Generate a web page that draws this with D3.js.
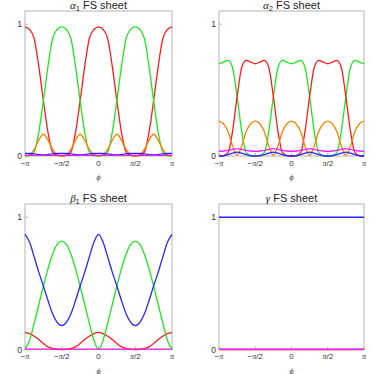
<!DOCTYPE html>
<html>
<head>
<meta charset="utf-8">
<script src="https://cdn.jsdelivr.net/npm/d3@7"></script>
<style>
body { margin: 0; background: #fff; }
text { font-family: "Liberation Sans", Arial, sans-serif; fill: #333; }
.greek { font-family: "Liberation Serif", serif; font-style: italic; }
</style>
</head>
<body>
<svg width="374" height="374"></svg>
<script>
// phi sample points, in steps of pi/16 (-pi .. pi)
const phiSteps = [-16,-15,-14,-13,-12,-11,-10,-9,-8,-7,-6,-5,-4,-3,-2,-1,0,1,2,3,4,5,6,7,8,9,10,11,12,13,14,15,16];

// alpha1 FS sheet
const alpha1Red = [0.98,0.96,0.89,0.68,0.42,0.18,0.03,0.005,0,0.005,0.03,0.18,0.42,0.68,0.89,0.96,0.98,0.96,0.89,0.68,0.42,0.18,0.03,0.005,0,0.005,0.03,0.18,0.42,0.68,0.89,0.96,0.98];
const alpha1Green = [0,0.005,0.03,0.18,0.42,0.68,0.89,0.96,0.98,0.96,0.89,0.68,0.42,0.18,0.03,0.005,0,0.005,0.03,0.18,0.42,0.68,0.89,0.96,0.98,0.96,0.89,0.68,0.42,0.18,0.03,0.005,0];
const alpha1Orange = [0,0.01,0.05,0.12,0.165,0.12,0.05,0.01,0,0.01,0.05,0.12,0.165,0.12,0.05,0.01,0,0.01,0.05,0.12,0.165,0.12,0.05,0.01,0,0.01,0.05,0.12,0.165,0.12,0.05,0.01,0];
const alpha1Blue = [0.02,0.019,0.016,0.011,0.008,0.011,0.016,0.019,0.02,0.019,0.016,0.011,0.008,0.011,0.016,0.019,0.02,0.019,0.016,0.011,0.008,0.011,0.016,0.019,0.02,0.019,0.016,0.011,0.008,0.011,0.016,0.019,0.02];
const alpha1Magenta = [0.005,0.005,0.005,0.005,0.005,0.005,0.005,0.005,0.005,0.005,0.005,0.005,0.005,0.005,0.005,0.005,0.005,0.005,0.005,0.005,0.005,0.005,0.005,0.005,0.005,0.005,0.005,0.005,0.005,0.005,0.005,0.005,0.005];

// alpha2 FS sheet
const alpha2Green = [0.70,0.712,0.725,0.67,0.45,0.19,0.025,0.003,0,0.003,0.025,0.19,0.45,0.67,0.725,0.712,0.70,0.712,0.725,0.67,0.45,0.19,0.025,0.003,0,0.003,0.025,0.19,0.45,0.67,0.725,0.712,0.70];
const alpha2Red = [0,0.003,0.025,0.19,0.45,0.67,0.725,0.712,0.70,0.712,0.725,0.67,0.45,0.19,0.025,0.003,0,0.003,0.025,0.19,0.45,0.67,0.725,0.712,0.70,0.712,0.725,0.67,0.45,0.19,0.025,0.003,0];
const alpha2Orange = [0.265,0.245,0.185,0.075,0.005,0.075,0.185,0.245,0.265,0.245,0.185,0.075,0.005,0.075,0.185,0.245,0.265,0.245,0.185,0.075,0.005,0.075,0.185,0.245,0.265,0.245,0.185,0.075,0.005,0.075,0.185,0.245,0.265];
const alpha2Magenta = [0.036,0.038,0.043,0.05,0.056,0.05,0.043,0.038,0.036,0.038,0.043,0.05,0.056,0.05,0.043,0.038,0.036,0.038,0.043,0.05,0.056,0.05,0.043,0.038,0.036,0.038,0.043,0.05,0.056,0.05,0.043,0.038,0.036];
const alpha2Blue = [0,0.002,0.01,0.022,0.03,0.022,0.01,0.002,0,0.002,0.01,0.022,0.03,0.022,0.01,0.002,0,0.002,0.01,0.022,0.03,0.022,0.01,0.002,0,0.002,0.01,0.022,0.03,0.022,0.01,0.002,0];

// beta1 FS sheet
const beta1Blue = [0.87,0.81,0.70,0.585,0.48,0.37,0.27,0.205,0.18,0.205,0.27,0.37,0.48,0.585,0.70,0.81,0.87,0.81,0.70,0.585,0.48,0.37,0.27,0.205,0.18,0.205,0.27,0.37,0.48,0.585,0.70,0.81,0.87];
const beta1Green = [0,0.07,0.2,0.34,0.48,0.61,0.72,0.795,0.82,0.795,0.72,0.61,0.48,0.34,0.2,0.07,0,0.07,0.2,0.34,0.48,0.61,0.72,0.795,0.82,0.795,0.72,0.61,0.48,0.34,0.2,0.07,0];
const beta1Red = [0.13,0.12,0.10,0.075,0.045,0.02,0.008,0.002,0,0.002,0.008,0.02,0.045,0.075,0.10,0.12,0.13,0.12,0.10,0.075,0.045,0.02,0.008,0.002,0,0.002,0.008,0.02,0.045,0.075,0.10,0.12,0.13];
const beta1Magenta = [0.003,0.003,0.003,0.003,0.003,0.003,0.003,0.003,0.003,0.003,0.003,0.003,0.003,0.003,0.003,0.003,0.003,0.003,0.003,0.003,0.003,0.003,0.003,0.003,0.003,0.003,0.003,0.003,0.003,0.003,0.003,0.003,0.003];

// gamma FS sheet
const gammaBlue = [1,1,1,1,1,1,1,1,1,1,1,1,1,1,1,1,1,1,1,1,1,1,1,1,1,1,1,1,1,1,1,1,1];
const gammaRed = [0,0,0,0,0,0,0,0,0,0,0,0,0,0,0,0,0,0,0,0,0,0,0,0,0,0,0,0,0,0,0,0,0];
const gammaMagenta = [0.002,0.002,0.002,0.002,0.002,0.002,0.002,0.002,0.002,0.002,0.002,0.002,0.002,0.002,0.002,0.002,0.002,0.002,0.002,0.002,0.002,0.002,0.002,0.002,0.002,0.002,0.002,0.002,0.002,0.002,0.002,0.002,0.002];

// axis ticks (x in units of pi)
const xTickValues = [-1, -0.5, 0, 0.5, 1];
const xTickLabels = [["\u2212", "\u03c0", ""], ["\u2212", "\u03c0", "/2"], ["", "", "0"], ["", "\u03c0", "/2"], ["", "\u03c0", ""]];
const yTickValues = [0, 1];
const yTickLabels = ["0", "1"];

const panelNames = [["\u03b1", "1"], ["\u03b1", "2"], ["\u03b2", "1"], ["\u03b3", ""]];
const panelSeries = [
  [alpha1Red, alpha1Green, alpha1Orange, alpha1Blue, alpha1Magenta],
  [alpha2Green, alpha2Red, alpha2Orange, alpha2Blue, alpha2Magenta],
  [beta1Red, beta1Green, beta1Blue, beta1Magenta],
  [gammaRed, gammaBlue, gammaMagenta]
];
const panelColors = [
  ["#ff1a1a", "#1ee61e", "#ff8000", "#2626ff", "#f01ef0"],
  ["#1ee61e", "#ff1a1a", "#ff8000", "#2626ff", "#f01ef0"],
  ["#ff1a1a", "#1ee61e", "#2626ff", "#f01ef0"],
  ["#ff1a1a", "#2626ff", "#f01ef0"]
];

// where each panel's frame sits
const boxes = [
  {x0: 25, x1: 172, y0: 11, y1: 156},
  {x0: 219, x1: 364, y0: 11, y1: 156},
  {x0: 25, x1: 172, y0: 204, y1: 349.5},
  {x0: 219, x1: 364, y0: 204, y1: 349.5}
];

const svg = d3.select("svg");

boxes.forEach(function(b, i) {
  const x = d3.scaleLinear().domain([-1, 1]).range([b.x0, b.x1]);
  const y = d3.scaleLinear().domain([0, 1.1]).range([b.y1, b.y0]);
  const g = svg.append("g");

  // frame
  g.append("rect")
    .attr("x", b.x0).attr("y", b.y0)
    .attr("width", b.x1 - b.x0).attr("height", b.y1 - b.y0)
    .attr("fill", "none").attr("stroke", "#b4b4b4").attr("stroke-width", 1);

  // x ticks + labels
  xTickValues.forEach(function(v, j) {
    g.append("line")
      .attr("x1", x(v)).attr("x2", x(v))
      .attr("y1", b.y1).attr("y2", b.y1 - 3)
      .attr("stroke", "#b4b4b4");
    const t = g.append("text")
      .attr("x", x(v)).attr("y", b.y1 + 9.5)
      .attr("text-anchor", "middle")
      .style("font-size", "8px");
    const parts = xTickLabels[j];
    if (parts[0]) t.append("tspan").text(parts[0]);
    if (parts[1]) t.append("tspan").attr("class", "greek").text(parts[1]);
    if (parts[2]) t.append("tspan").text(parts[2]);
  });

  // y ticks + labels
  yTickValues.forEach(function(v, j) {
    g.append("line")
      .attr("x1", b.x0).attr("x2", b.x0 + 3)
      .attr("y1", y(v)).attr("y2", y(v))
      .attr("stroke", "#b4b4b4");
    g.append("text")
      .attr("x", b.x0 - 3).attr("y", y(v) + 3)
      .attr("text-anchor", "end")
      .style("font-size", "8.5px")
      .text(yTickLabels[j]);
  });

  // phi axis label
  g.append("text")
    .attr("class", "greek")
    .attr("x", (b.x0 + b.x1) / 2).attr("y", b.y1 + 24)
    .attr("text-anchor", "middle")
    .style("font-size", "8px")
    .text("\u03d5");

  // title
  const title = g.append("text")
    .attr("x", (b.x0 + b.x1) / 2).attr("y", b.y0 - 2.5)
    .attr("text-anchor", "middle")
    .style("font-size", "11px").style("fill", "#222");
  title.append("tspan").attr("class", "greek").text(panelNames[i][0]);
  if (panelNames[i][1]) title.append("tspan").attr("dy", 2).style("font-size", "7.5px").text(panelNames[i][1]);
  title.append("tspan").attr("dy", panelNames[i][1] ? -2 : 0).text(" FS sheet");

  // curves
  const line = d3.line()
    .x(function(d, k) { return x(phiSteps[k] / 16); })
    .y(function(d) { return y(d); })
    .curve(d3.curveMonotoneX);

  panelSeries[i].forEach(function(s, j) {
    g.append("path")
      .datum(s)
      .attr("d", line)
      .attr("fill", "none")
      .attr("stroke", panelColors[i][j])
      .attr("stroke-width", 1.3);
  });
});
</script>
</body>
</html>
